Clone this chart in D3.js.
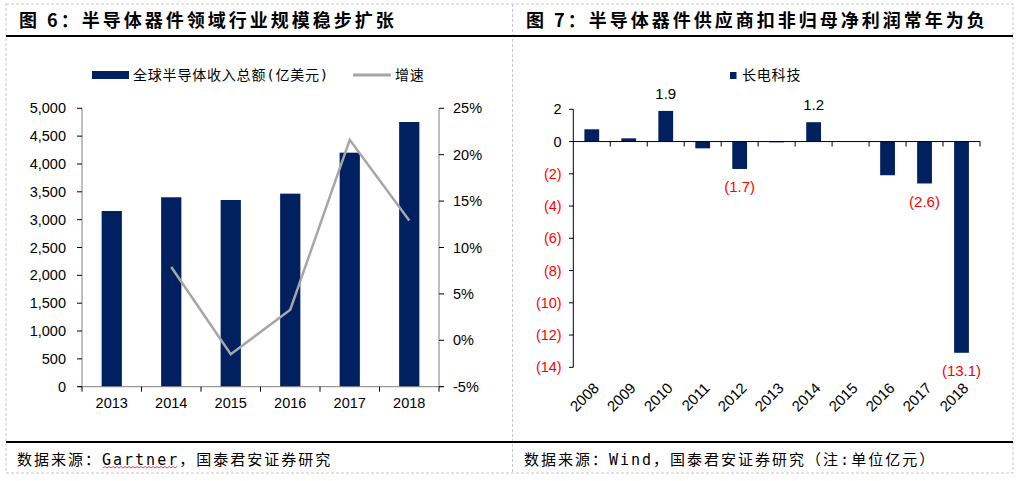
<!DOCTYPE html>
<html>
<head>
<meta charset="utf-8">
<script src="https://cdn.jsdelivr.net/npm/d3@7"></script>
<style>
  body { margin: 0; background: #fff; }
  svg { display: block; }
  .num { font-family: "Liberation Sans", Arial, sans-serif; font-size: 14.5px; fill: #000; }
  .cjk { font-family: "DejaVu Sans Mono", "Noto Sans CJK SC", monospace; font-size: 14px; letter-spacing: 0.8px; fill: #000; }
  .foot { font-family: "DejaVu Sans Mono", "Noto Sans CJK SC", monospace; font-size: 15px; letter-spacing: 2px; fill: #000; }
  .title { font-family: "Noto Sans CJK SC", sans-serif; font-size: 18px; font-weight: 700; letter-spacing: 3px; fill: #000; }
</style>
</head>
<body>
<svg id="chart" width="1021" height="481"></svg>
<script>
// ---- data: 图6
let years_l = ["2013", "2014", "2015", "2016", "2017", "2018"];
let revenue = [3155, 3402, 3353, 3467, 4203, 4754];
let growth = [null, 7.9, -1.5, 3.3, 21.6, 12.9];
let revenue_ticks = [0, 500, 1000, 1500, 2000, 2500, 3000, 3500, 4000, 4500, 5000];
let growth_ticks = [-5, 0, 5, 10, 15, 20, 25];

// ---- data: 图7
let years_r = ["2008", "2009", "2010", "2011", "2012", "2013", "2014", "2015", "2016", "2017", "2018"];
let profit = [0.76, 0.2, 1.9, -0.42, -1.7, -0.05, 1.2, 0, -2.09, -2.6, -13.1];
let profit_labels = [null, null, "1.9", null, "(1.7)", null, "1.2", null, null, "(2.6)", "(13.1)"];
let profit_ticks = [2, 0, -2, -4, -6, -8, -10, -12, -14];

const navy = "#002060";
const svg = d3.select("#chart");

// frame
const dash = "3,2";
svg.append("rect").attr("x", 6).attr("y", 4).attr("width", 1007).attr("height", 469)
  .attr("fill", "none").attr("stroke", "#c8c8c8").attr("stroke-dasharray", dash);
svg.append("line").attr("x1", 512.5).attr("x2", 512.5).attr("y1", 4).attr("y2", 473)
  .attr("stroke", "#c8c8c8").attr("stroke-dasharray", dash);
svg.append("line").attr("x1", 6).attr("x2", 1013).attr("y1", 36).attr("y2", 36)
  .attr("stroke", "#000").attr("stroke-width", 2);
svg.append("line").attr("x1", 6).attr("x2", 1013).attr("y1", 442).attr("y2", 442)
  .attr("stroke", "#000").attr("stroke-width", 2);

svg.append("text").attr("class", "title").attr("x", 19).attr("y", 27).text("图 6：半导体器件领域行业规模稳步扩张");
svg.append("text").attr("class", "title").attr("x", 526).attr("y", 27).text("图 7：半导体器件供应商扣非归母净利润常年为负");

svg.append("text").attr("class", "foot").attr("x", 17).attr("y", 465).text("数据来源：Gartner，国泰君安证券研究");
svg.append("text").attr("class", "foot").attr("x", 524).attr("y", 465).text("数据来源：Wind，国泰君安证券研究（注:单位亿元）");

// spell-check squiggle under Gartner
let sq = "M103,468";
for (let xx = 103, k = 0; xx < 176; xx += 2, k++) sq += "L" + (xx + 2) + "," + (k % 2 ? 468 : 466.5);
svg.append("path").attr("d", sq).attr("fill", "none").attr("stroke", "#e02020").attr("stroke-width", 0.8);

// ================= left chart =================
function left_chart() {
  let g = svg.append("g");
  let x = d3.scaleBand().domain(years_l).range([82, 439]);
  let y = d3.scaleLinear().domain([0, 5000]).range([386.7, 108.3]);
  let y2 = d3.scaleLinear().domain([-5, 25]).range([386.7, 108.3]);
  let bw = x.step() * 0.34;

  g.selectAll(".bar").data(years_l).enter().append("rect")
    .attr("x", d => x(d) + x.bandwidth() / 2 - bw / 2)
    .attr("width", bw)
    .attr("y", (d, i) => y(revenue[i]))
    .attr("height", (d, i) => y(0) - y(revenue[i]))
    .attr("fill", navy);

  // axes
  const ax = "#808080";
  g.append("line").attr("x1", 82).attr("x2", 82).attr("y1", y(5000)).attr("y2", y(0)).attr("stroke", ax);
  g.append("line").attr("x1", 439).attr("x2", 439).attr("y1", y(5000)).attr("y2", y(0)).attr("stroke", ax);
  g.append("line").attr("x1", 78).attr("x2", 443).attr("y1", y(0)).attr("y2", y(0)).attr("stroke", ax);

  revenue_ticks.forEach(t => {
    g.append("line").attr("x1", 77).attr("x2", 82).attr("y1", y(t)).attr("y2", y(t)).attr("stroke", "#000");
    g.append("text").attr("class", "num").attr("x", 66).attr("y", y(t)).attr("dy", "0.35em")
      .attr("text-anchor", "end").text(d3.format(",")(t));
  });
  growth_ticks.forEach(t => {
    g.append("line").attr("x1", 439).attr("x2", 444).attr("y1", y2(t)).attr("y2", y2(t)).attr("stroke", "#000");
    g.append("text").attr("class", "num").attr("x", 453).attr("y", y2(t)).attr("dy", "0.35em")
      .text(t + "%");
  });
  for (let i = 0; i <= years_l.length; i++) {
    let xx = x.range()[0] + i * x.step();
    g.append("line").attr("x1", xx).attr("x2", xx).attr("y1", y(0)).attr("y2", y(0) + 5).attr("stroke", "#000");
  }
  years_l.forEach(d => {
    g.append("text").attr("class", "num").attr("x", x(d) + x.bandwidth() / 2).attr("y", 408)
      .attr("text-anchor", "middle").text(d);
  });

  let line = d3.line()
    .defined(d => d.v !== null)
    .x(d => x(d.k) + x.bandwidth() / 2)
    .y(d => y2(d.v));
  g.append("path").datum(years_l.map((k, i) => ({k: k, v: growth[i]})))
    .attr("d", line).attr("fill", "none").attr("stroke", "#a6a6a6").attr("stroke-width", 2.5);

  // legend
  g.append("rect").attr("x", 92).attr("y", 71).attr("width", 37).attr("height", 8).attr("fill", navy);
  g.append("text").attr("class", "cjk").attr("x", 133).attr("y", 80).text("全球半导体收入总额(亿美元)");
  g.append("line").attr("x1", 353).attr("x2", 391).attr("y1", 75).attr("y2", 75)
    .attr("stroke", "#a6a6a6").attr("stroke-width", 3);
  g.append("text").attr("class", "cjk").attr("x", 395).attr("y", 80).text("增速");
}

// ================= right chart =================
function right_chart() {
  let g = svg.append("g");
  let x = d3.scaleBand().domain(years_r).range([573.3, 980]);
  let y = d3.scaleLinear().domain([-14, 2]).range([367.3, 109.3]);
  let bw = x.step() * 0.4;

  g.selectAll(".bar").data(years_r).enter().append("rect")
    .attr("x", d => x(d) + x.bandwidth() / 2 - bw / 2)
    .attr("width", bw)
    .attr("y", (d, i) => y(Math.max(0, profit[i])))
    .attr("height", (d, i) => Math.abs(y(profit[i]) - y(0)))
    .attr("fill", navy);

  g.append("line").attr("x1", 573.3).attr("x2", 573.3).attr("y1", y(2)).attr("y2", y(-14)).attr("stroke", "#000");
  g.append("line").attr("x1", 573.3).attr("x2", 980).attr("y1", y(0)).attr("y2", y(0)).attr("stroke", "#000");

  profit_ticks.forEach(t => {
    g.append("line").attr("x1", 569).attr("x2", 573.3).attr("y1", y(t)).attr("y2", y(t)).attr("stroke", "#000");
    g.append("text").attr("class", "num").attr("x", 561.7).attr("y", y(t)).attr("dy", "0.35em")
      .attr("text-anchor", "end").style("fill", t < 0 ? "#ff0000" : "#000")
      .text(t < 0 ? "(" + (-t) + ")" : t);
  });
  for (let i = 1; i <= years_r.length; i++) {
    let xx = x.range()[0] + i * x.step();
    g.append("line").attr("x1", xx).attr("x2", xx).attr("y1", y(0)).attr("y2", y(0) + 5).attr("stroke", "#000");
  }
  years_r.forEach(d => {
    let cx = x(d) + x.bandwidth() / 2 + 8;
    g.append("text").attr("class", "num").style("font-size", "15px")
      .attr("transform", `translate(${cx},389) rotate(-45)`)
      .attr("text-anchor", "end").text(d);
  });

  years_r.forEach((d, i) => {
    if (!profit_labels[i]) return;
    let v = profit[i];
    g.append("text").attr("class", "num").style("font-size", "15px")
      .attr("x", x(d) + x.bandwidth() / 2)
      .attr("y", v > 0 ? y(v) - 17 : y(v) + 18)
      .attr("dy", "0.35em").attr("text-anchor", "middle")
      .style("fill", v < 0 ? "#ff0000" : "#000")
      .text(profit_labels[i]);
  });

  g.append("rect").attr("x", 730).attr("y", 72).attr("width", 6.5).attr("height", 7).attr("fill", navy);
  g.append("text").attr("class", "cjk").attr("x", 742).attr("y", 80).text("长电科技");
}

left_chart();
right_chart();
</script>
</body>
</html>
